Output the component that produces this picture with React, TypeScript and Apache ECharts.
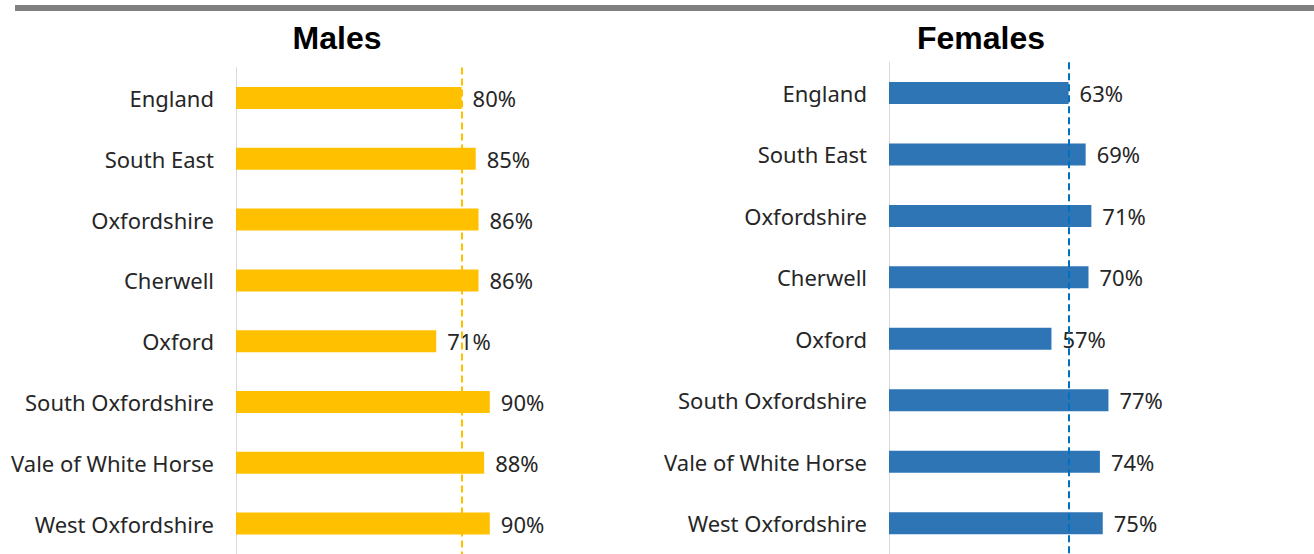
import React, { useEffect, useRef } from "react";
import * as echarts from "echarts";

const categories = [
  "England",
  "South East",
  "Oxfordshire",
  "Cherwell",
  "Oxford",
  "South Oxfordshire",
  "Vale of White Horse",
  "West Oxfordshire",
];
const malesValues = [80, 85, 86, 86, 71, 90, 88, 90];
const femalesValues = [63, 69, 71, 70, 57, 77, 74, 75];
const titles = ["Males", "Females"];

const LABEL_FONT = "'Noto Sans', Lato, sans-serif";
const TEXT_COLOR = "#262626";

export default function App() {
  const ref = useRef<HTMLDivElement>(null);
  useEffect(() => {
    if (!ref.current) return;
    const chart = echarts.init(ref.current, null, { renderer: "svg" });
    const mkSeries = (idx: number, values: number[], color: string, lineColor: string) => ({
      type: "bar",
      xAxisIndex: idx,
      yAxisIndex: idx,
      data: values,
      barWidth: 22,
      itemStyle: { color },
      label: {
        show: true,
        position: "right",
        distance: 11,
        formatter: "{c}%",
        color: TEXT_COLOR,
        fontFamily: LABEL_FONT,
        fontSize: 22,
      },
      markLine: {
        silent: true,
        symbol: "none",
        label: { show: false },
        lineStyle: { color: lineColor, type: [7, 4], width: 2 },
        data: [{ xAxis: values[0] }],
        z: 10,
      },
      z: 2,
    });
    const mkY = (idx: number) => ({
      type: "category",
      gridIndex: idx,
      data: categories,
      inverse: true,
      axisTick: { show: false },
      axisLine: { show: true, lineStyle: { color: "#d9d9d9", width: 1 } },
      axisLabel: {
        margin: 22,
        color: TEXT_COLOR,
        fontFamily: LABEL_FONT,
        fontSize: 22,
      },
    });
    const mkX = (idx: number) => ({
      type: "value",
      gridIndex: idx,
      min: 0,
      max: 100,
      show: false,
      splitLine: { show: false },
    });
    const titleStyle = {
      fontFamily: "'Liberation Sans', Arial, sans-serif",
      fontWeight: "bold",
      fontSize: 32,
      color: "#000",
    };
    chart.setOption({
      animation: false,
      backgroundColor: "#ffffff",
      title: [
        { text: titles[0], left: 337, top: 22, padding: 0, textAlign: "center", textStyle: titleStyle },
        { text: titles[1], left: 981, top: 22, padding: 0, textAlign: "center", textStyle: titleStyle },
      ],
      graphic: [
        {
          type: "rect",
          shape: { x: 15, y: 5, width: 1299, height: 6 },
          style: { fill: "#808080" },
        },
      ],
      grid: [
        { left: 236, top: 67.6, width: 282, height: 486.8 },
        { left: 889, top: 62.2, width: 285, height: 492.6 },
      ],
      xAxis: [mkX(0), mkX(1)],
      yAxis: [mkY(0), mkY(1)],
      series: [
        mkSeries(0, malesValues, "#FFC000", "#FFC000"),
        mkSeries(1, femalesValues, "#2E75B6", "#0070C0"),
      ],
    });
    return () => chart.dispose();
  }, []);
  return (
    <div
      ref={ref}
      style={{ position: "fixed", left: 0, top: 0, width: 1314, height: 554 }}
    />
  );
}
